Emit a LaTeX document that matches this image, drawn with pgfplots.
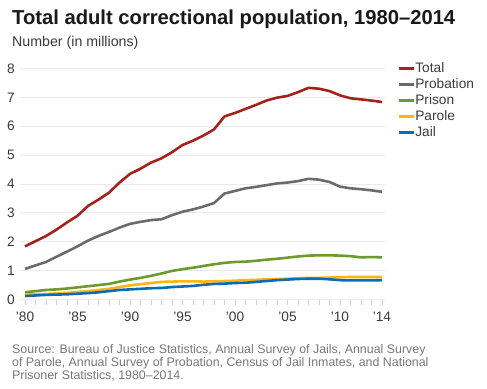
\documentclass[border=0pt]{standalone}
\usepackage{fontspec}
\setmainfont{Liberation Sans}
\usepackage{pgfplots}
\usepackage{pgfplotstable}
\pgfplotsset{compat=1.18}
\definecolor{ctotal}{HTML}{A3231C}
\definecolor{cprob}{HTML}{6B6B6E}
\definecolor{cprison}{HTML}{6B9B2E}
\definecolor{cparole}{HTML}{FDB515}
\definecolor{cjail}{HTML}{0A6CB6}
\definecolor{gridc}{HTML}{EBEBEB}
\definecolor{tickc}{HTML}{D2D2D2}
\definecolor{txt}{HTML}{3A3A3A}
\definecolor{srcc}{HTML}{777777}
\pgfplotstableread{
year total probation prison parole jail
1980 1.84 1.06 0.25 0.17 0.12
1981 2.02 1.18 0.29 0.18 0.14
1982 2.20 1.30 0.33 0.19 0.16
1983 2.42 1.48 0.35 0.21 0.17
1984 2.67 1.66 0.38 0.23 0.18
1985 2.90 1.84 0.42 0.26 0.20
1986 3.24 2.04 0.46 0.29 0.22
1987 3.46 2.20 0.50 0.33 0.25
1988 3.70 2.34 0.54 0.37 0.29
1989 4.05 2.49 0.62 0.43 0.33
1990 4.35 2.62 0.69 0.49 0.35
1991 4.53 2.69 0.75 0.53 0.37
1992 4.74 2.75 0.82 0.57 0.39
1993 4.89 2.78 0.90 0.61 0.40
1994 5.10 2.92 0.99 0.62 0.43
1995 5.35 3.04 1.05 0.63 0.45
1996 5.50 3.12 1.10 0.63 0.47
1997 5.68 3.22 1.16 0.62 0.51
1998 5.89 3.34 1.22 0.63 0.54
1999 6.34 3.67 1.27 0.64 0.55
2000 6.46 3.76 1.30 0.65 0.57
2001 6.60 3.85 1.31 0.67 0.58
2002 6.74 3.90 1.34 0.68 0.61
2003 6.89 3.96 1.38 0.70 0.64
2004 6.99 4.02 1.41 0.71 0.67
2005 7.05 4.05 1.45 0.72 0.69
2006 7.18 4.10 1.49 0.74 0.71
2007 7.33 4.18 1.52 0.75 0.72
2008 7.30 4.15 1.53 0.75 0.72
2009 7.22 4.07 1.53 0.76 0.70
2010 7.07 3.91 1.52 0.77 0.67
2011 6.97 3.85 1.50 0.78 0.66
2012 6.93 3.82 1.46 0.78 0.66
2013 6.89 3.78 1.47 0.78 0.66
2014 6.84 3.73 1.46 0.78 0.67
}\datatable
\begin{document}
\begin{tikzpicture}
\path[use as bounding box] (0,0) rectangle (487bp,389bp);
\node[anchor=base west, inner sep=0pt, font=\fontsize{20.2bp}{24bp}\selectfont\bfseries, text=black!90] at (12bp,364.5bp) {Total adult correctional population, 1980–2014};
\node[anchor=base west, inner sep=0pt, font=\fontsize{14.2bp}{16bp}\selectfont, text=txt] at (12bp,342bp) {Number (in millions)};
\node[anchor=north west, inner sep=0pt, align=left, font=\fontsize{12.4bp}{13bp}\selectfont, text=srcc] at (12bp,45bp) {Source: Bureau of Justice Statistics, Annual Survey of Jails, Annual Survey\\of Parole, Annual Survey of Probation, Census of Jail Inmates, and National\\Prisoner Statistics, 1980–2014.};
\begin{axis}[
  at={(20bp,89.5bp)}, anchor=south west,
  scale only axis, width=365bp, height=231bp,
  xmin=1979.52, xmax=2014.29, ymin=0, ymax=8,
  axis x line*=bottom, axis y line*=left,
  y axis line style={draw=none},
  x axis line style={draw=gridc, line width=1bp, -},
  ymajorgrids, grid style={draw=gridc, line width=1bp},
  ytick={0,1,...,8},
  xtick={1980,1985,1990,1995,2000,2005,2010,2014},
  xticklabels={'80,'85,'90,'95,'00,'05,'10,'14},
  minor xtick={1980,...,2014},
  tick align=outside,
  major tick length=6bp, minor tick length=6bp,
  xtick style={draw=tickc, line width=0.8bp},
  minor x tick style={draw=tickc, line width=0.8bp},
  ytick style={draw=none},
  /pgf/number format/assume math mode=true,
  ticklabel style={font=\fontsize{13.7bp}{15bp}\selectfont, text=txt},
  yticklabel style={anchor=east, inner sep=0pt, xshift=1bp},
  yticklabels={0,1,2,3,4,5,6,7,8},
  xticklabel style={anchor=base, inner sep=0pt, yshift=-16bp},
  legend style={at={(1.033,1.028)}, anchor=north west, draw=none, fill=none, inner sep=0pt,
    font=\fontsize{13.7bp}{15bp}\selectfont, text=txt, row sep=3.6bp,
    nodes={inner sep=0.5bp}},
  legend cell align=left,
  legend image code/.code={\draw[#1, line width=2.6bp] (0bp,0bp) -- (15bp,0bp);},
  every axis plot/.append style={line width=2.6bp, line join=round},
  clip=false,
]
\addplot[ctotal] table[x=year,y=total]{\datatable};
\addlegendentry{Total}
\addplot[cprob] table[x=year,y=probation]{\datatable};
\addlegendentry{Probation}
\addplot[cprison] table[x=year,y=prison]{\datatable};
\addlegendentry{Prison}
\addplot[cparole] table[x=year,y=parole]{\datatable};
\addlegendentry{Parole}
\addplot[cjail] table[x=year,y=jail]{\datatable};
\addlegendentry{Jail}
\end{axis}
\end{tikzpicture}
\end{document}
